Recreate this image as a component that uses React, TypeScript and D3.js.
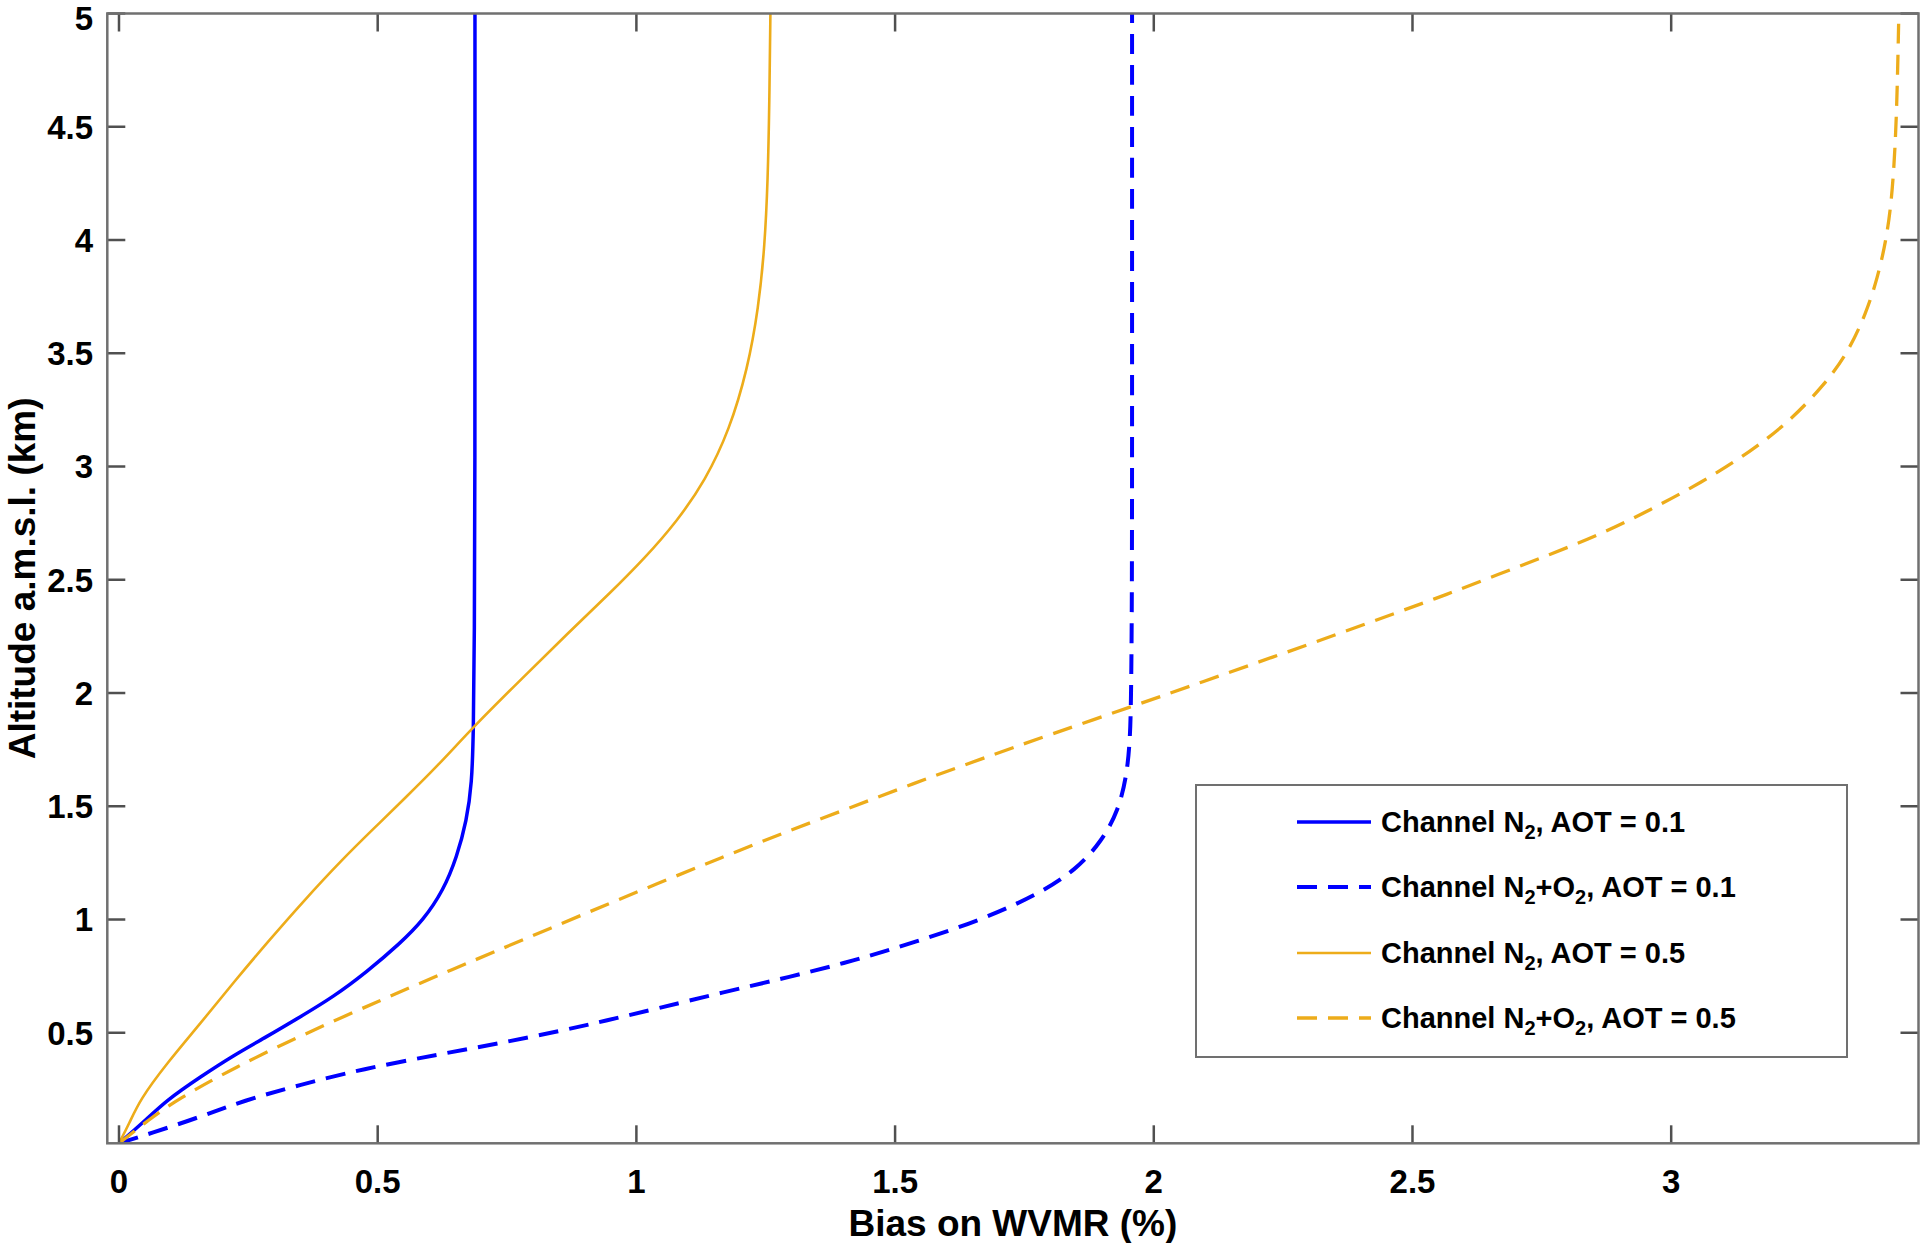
import * as d3 from "d3";

// Altitude (km) / bias (%), one pair of arrays per curve
const n2Aot01Alt = [0.012, 0.1, 0.203, 0.305, 0.4, 0.482, 0.57, 0.658, 0.769, 0.894, 0.997, 1.129, 1.276, 1.438, 1.6, 1.82, 2.23, 3.0, 4.0, 5.0];
const n2Aot01Bias = [0, 0.045, 0.092, 0.157, 0.221, 0.285, 0.35, 0.414, 0.479, 0.543, 0.588, 0.627, 0.653, 0.672, 0.682, 0.685, 0.687, 0.688, 0.688, 0.688];

const n2o2Aot01Alt = [0.012, 0.055, 0.129, 0.2, 0.27, 0.34, 0.405, 0.455, 0.506, 0.553, 0.607, 0.677, 0.747, 0.817, 0.902, 0.995, 1.111, 1.22, 1.344, 1.483, 1.639, 1.794, 1.949, 2.414, 3.5, 5.0];
const n2o2Aot01Bias = [0, 0.06, 0.158, 0.24, 0.35, 0.47, 0.62, 0.738, 0.85, 0.94, 1.04, 1.165, 1.297, 1.419, 1.541, 1.663, 1.777, 1.85, 1.899, 1.932, 1.948, 1.954, 1.956, 1.958, 1.958, 1.958];

const n2Aot05Alt = [0.012, 0.1, 0.203, 0.364, 0.54, 0.724, 0.908, 1.085, 1.262, 1.401, 1.541, 1.674, 1.858, 2.062, 2.263, 2.443, 2.6, 2.757, 2.937, 3.162, 3.431, 3.7, 3.971, 4.263, 4.6, 5.0];
const n2Aot05Bias = [0, 0.02, 0.04, 0.092, 0.157, 0.222, 0.29, 0.358, 0.43, 0.492, 0.555, 0.614, 0.688, 0.778, 0.867, 0.95, 1.018, 1.078, 1.133, 1.18, 1.215, 1.236, 1.248, 1.254, 1.257, 1.259];

const n2o2Aot05Alt = [0.012, 0.12, 0.203, 0.349, 0.496, 0.643, 0.761, 0.85, 1.04, 1.158, 1.274, 1.383, 1.491, 1.6, 1.708, 1.817, 1.94, 2.05, 2.16, 2.26, 2.355, 2.434, 2.523, 2.612, 2.7, 2.809, 2.927, 3.066, 3.204, 3.361, 3.5, 3.677, 3.835, 3.993, 4.17, 4.407, 4.664, 5.0];
const n2o2Aot05Bias = [0, 0.06, 0.111, 0.225, 0.36, 0.505, 0.625, 0.718, 0.915, 1.04, 1.165, 1.285, 1.41, 1.535, 1.665, 1.8, 1.957, 2.095, 2.232, 2.355, 2.47, 2.565, 2.665, 2.766, 2.863, 2.96, 3.057, 3.154, 3.231, 3.296, 3.341, 3.377, 3.399, 3.415, 3.426, 3.433, 3.437, 3.44];

const xTicks = [0, 0.5, 1, 1.5, 2, 2.5, 3];
const yTicks = [0.5, 1, 1.5, 2, 2.5, 3, 3.5, 4, 4.5, 5];

const BLUE = "#0000FF";
const ORANGE = "#EDAC1A";

type Series = {
  alt: number[];
  bias: number[];
  color: string;
  width: number;
  dash?: string;
  label: string[]; // alternating normal / subscript parts
};

const series: Series[] = [
  { alt: n2Aot01Alt, bias: n2Aot01Bias, color: BLUE, width: 3.5, label: ["Channel N", "2", ", AOT = 0.1"] },
  { alt: n2o2Aot01Alt, bias: n2o2Aot01Bias, color: BLUE, width: 4, dash: "20,11", label: ["Channel N", "2", "+O", "2", ", AOT = 0.1"] },
  { alt: n2Aot05Alt, bias: n2Aot05Bias, color: ORANGE, width: 2.6, label: ["Channel N", "2", ", AOT = 0.5"] },
  { alt: n2o2Aot05Alt, bias: n2o2Aot05Bias, color: ORANGE, width: 3.3, dash: "20,11", label: ["Channel N", "2", "+O", "2", ", AOT = 0.5"] },
];

const W = 1920;
const H = 1243;
const plot = { left: 107.3, right: 1918.5, top: 13.5, bottom: 1143.3 };
const FONT = "'Liberation Sans', Arial, Helvetica, sans-serif";
const AXIS = "#707070";
const TICK = "#505050";
const TICK_LEN = 18;

export default function App() {
  const x = d3.scaleLinear().domain([-0.0226, 3.478]).range([plot.left, plot.right]);
  const y = d3.scaleLinear().domain([0.012, 5]).range([plot.bottom, plot.top]);

  const line = d3
    .line<[number, number]>()
    .x((d) => x(d[0]))
    .y((d) => y(d[1]))
    .curve(d3.curveBasis);

  const legend = { x0: 1196, x1: 1847, y0: 785, y1: 1057, rows: [822, 887, 953, 1018], lineX0: 1297, lineX1: 1371, textX: 1381 };

  return (
    <div style={{ position: "absolute", left: 0, top: 0 }}>
      <svg width={W} height={H} style={{ display: "block", background: "#fff" }}>
        <defs>
          <clipPath id="plotClip">
            <rect x={plot.left} y={plot.top - 4} width={plot.right - plot.left} height={plot.bottom - plot.top + 4} />
          </clipPath>
        </defs>
        <rect width={W} height={H} fill="#fff" />

        {/* curves */}
        <g clipPath="url(#plotClip)">
          {series.map((s, i) => (
            <path
              key={i}
              d={line(s.alt.map((a, j) => [s.bias[j], a] as [number, number])) ?? ""}
              fill="none"
              stroke={s.color}
              strokeWidth={s.width}
              strokeDasharray={s.dash}
              strokeLinejoin="round"
            />
          ))}
        </g>

        {/* ticks, all four sides, pointing inward */}
        {xTicks.map((t) => (
          <g key={"xt" + t} stroke={TICK} strokeWidth={2.5}>
            <line x1={x(t)} x2={x(t)} y1={plot.bottom} y2={plot.bottom - TICK_LEN} />
            <line x1={x(t)} x2={x(t)} y1={plot.top} y2={plot.top + TICK_LEN} />
          </g>
        ))}
        {yTicks.map((t) => (
          <g key={"yt" + t} stroke={TICK} strokeWidth={2.5}>
            <line x1={plot.left} x2={plot.left + TICK_LEN} y1={y(t)} y2={y(t)} />
            <line x1={plot.right} x2={plot.right - TICK_LEN} y1={y(t)} y2={y(t)} />
          </g>
        ))}

        {/* axes box */}
        <rect
          x={plot.left}
          y={plot.top}
          width={plot.right - plot.left}
          height={plot.bottom - plot.top}
          fill="none"
          stroke={AXIS}
          strokeWidth={2.5}
        />

        {/* tick labels */}
        {xTicks.map((t) => (
          <text key={"xl" + t} x={x(t)} y={1193} textAnchor="middle" fontFamily={FONT} fontWeight="bold" fontSize={33} fill="#000">
            {String(t)}
          </text>
        ))}
        {yTicks.map((t) => (
          <text
            key={"yl" + t}
            x={93}
            y={Math.max(y(t), 18)}
            dy="0.36em"
            textAnchor="end"
            fontFamily={FONT}
            fontWeight="bold"
            fontSize={33}
            fill="#000"
          >
            {String(t)}
          </text>
        ))}

        {/* axis titles */}
        <text x={(plot.left + plot.right) / 2} y={1236} textAnchor="middle" fontFamily={FONT} fontWeight="bold" fontSize={37} fill="#000">
          Bias on WVMR (%)
        </text>
        <text
          transform={`translate(35,${(plot.top + plot.bottom) / 2}) rotate(-90)`}
          textAnchor="middle"
          fontFamily={FONT}
          fontWeight="bold"
          fontSize={37}
          fill="#000"
        >
          Altitude a.m.s.l. (km)
        </text>

        {/* legend */}
        <rect x={legend.x0} y={legend.y0} width={legend.x1 - legend.x0} height={legend.y1 - legend.y0} fill="#fff" stroke={AXIS} strokeWidth={2} />
        {series.map((s, i) => {
          const ry = legend.rows[i];
          return (
            <g key={"lg" + i}>
              <line x1={legend.lineX0} x2={legend.lineX1} y1={ry} y2={ry} stroke={s.color} strokeWidth={s.width} strokeDasharray={s.dash} />
              <text x={legend.textX} y={ry + 10} fontFamily={FONT} fontWeight="bold" fontSize={29} fill="#000">
                {s.label.map((part, k) =>
                  k % 2 === 1 ? (
                    <tspan key={k} dy={7} fontSize={20}>
                      {part}
                    </tspan>
                  ) : (
                    <tspan key={k} dy={k === 0 ? 0 : -7}>
                      {part}
                    </tspan>
                  ),
                )}
              </text>
            </g>
          );
        })}
      </svg>
    </div>
  );
}
